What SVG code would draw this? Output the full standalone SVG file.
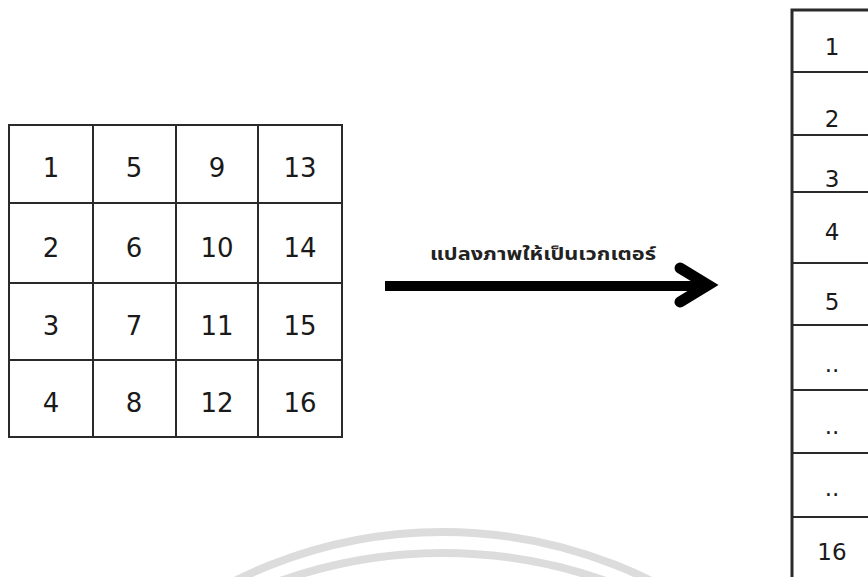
<svg xmlns="http://www.w3.org/2000/svg" width="868" height="577" viewBox="0 0 868 577">
<style>
.g{stroke:#2a2a2a;stroke-width:2;fill:none}
.n{font-family:"DejaVu Sans","Liberation Sans",sans-serif;font-size:26px;fill:#1a1a1a;text-anchor:middle}
.m{font-family:"DejaVu Sans","Liberation Sans",sans-serif;font-size:23px;fill:#1a1a1a;text-anchor:middle}
.wm{fill:none;stroke:#dcdcdc;stroke-width:8}
</style>
<rect width="868" height="577" fill="#fff"/>
<g id="watermark">
<circle class="wm" cx="443" cy="999" r="467"/>
<circle class="wm" cx="443" cy="1041" r="488"/>
</g>
<g id="matrix">
<rect class="g" x="9" y="125" width="333" height="312"/>
<path class="g" d="M93 125V437M176 125V437M258 125V437M9 203H342M9 283H342M9 360H342"/>
<text class="n" x="51" y="177">1</text><text class="n" x="134" y="177">5</text><text class="n" x="217" y="177">9</text><text class="n" x="300" y="177">13</text>
<text class="n" x="51" y="257">2</text><text class="n" x="134" y="257">6</text><text class="n" x="217" y="257">10</text><text class="n" x="300" y="257">14</text>
<text class="n" x="51" y="335">3</text><text class="n" x="134" y="335">7</text><text class="n" x="217" y="335">11</text><text class="n" x="300" y="335">15</text>
<text class="n" x="51" y="412">4</text><text class="n" x="134" y="412">8</text><text class="n" x="217" y="412">12</text><text class="n" x="300" y="412">16</text>
</g>
<g id="vector">
<path class="g" d="M870 10H792V577" style="stroke-width:3"/>
<path class="g" d="M792 72H868M792 135H868M792 192H868M792 263H868M792 325H868M792 390H868M792 453H868M792 517H868"/>
<text class="m" x="832" y="55">1</text>
<text class="m" x="832" y="127">2</text>
<text class="m" x="832" y="187">3</text>
<text class="m" x="832" y="240">4</text>
<text class="m" x="832" y="310">5</text>
<text class="m" x="832" y="372">..</text>
<text class="m" x="832" y="434">..</text>
<text class="m" x="832" y="496">..</text>
<text class="m" x="832" y="560">16</text>
</g>
<g id="connectors">
<line x1="385" y1="286" x2="704" y2="286" stroke="#000" stroke-width="10"/>
<polyline points="680,268 708,285 680,302" fill="none" stroke="#000" stroke-width="11" stroke-linecap="round" stroke-linejoin="miter"/>
<text x="543" y="260" text-anchor="middle" textLength="226" lengthAdjust="spacingAndGlyphs" style="font-family:'Noto Sans Thai','Noto Sans','DejaVu Sans',sans-serif;font-size:17px;font-weight:bold;fill:#222">แปลงภาพให้เป็นเวกเตอร์</text>
</g>
</svg>
